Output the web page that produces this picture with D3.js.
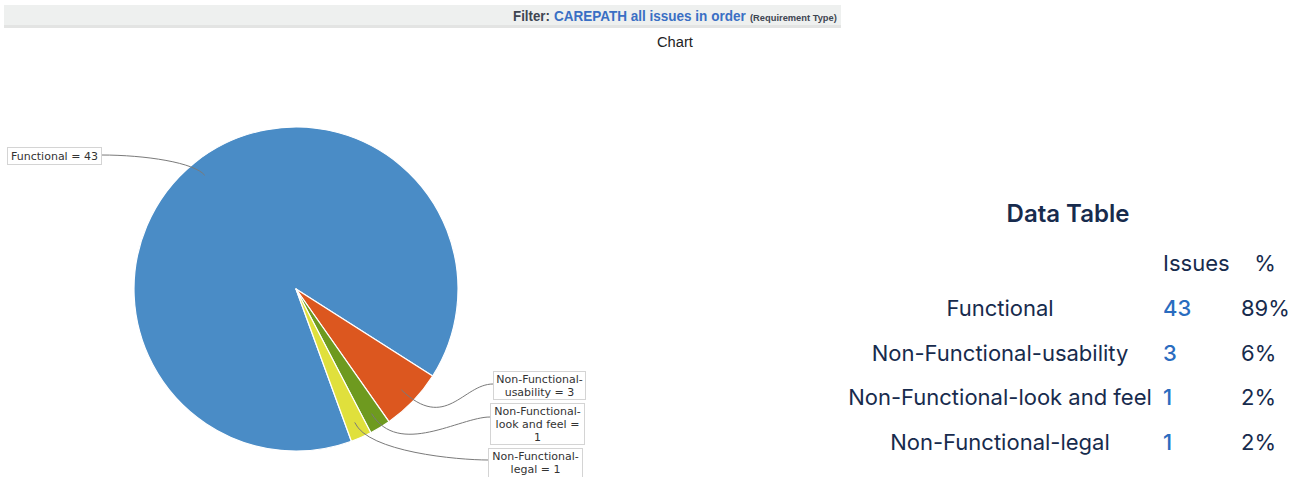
<!DOCTYPE html>
<html>
<head>
<meta charset="utf-8">
<script src="https://cdn.jsdelivr.net/npm/d3@7"></script>
<style>
  html, body { margin: 0; padding: 0; background: #fff; }
  svg { display: block; }
</style>
</head>
<body>
<svg id="chart" width="1302" height="477"></svg>
<script>
// Issue counts per requirement type
const categories = ["Functional", "Non-Functional-usability", "Non-Functional-look and feel", "Non-Functional-legal"];
const issues = [43, 3, 1, 1];
const percentLabels = ["89%", "6%", "2%", "2%"];
const sliceLabels = [["Functional = 43"], ["Non-Functional-", "usability = 3"], ["Non-Functional-", "look and feel =", "1"], ["Non-Functional-", "legal = 1"]];
const colors = ["#4a8cc6", "#dc571f", "#6e9a1f", "#e0e03c"];
const tableHeaders = ["Issues", "%"];

const svg = d3.select("#chart");

// ---- header bar ----
svg.append("rect").attr("x", 4).attr("y", 5).attr("width", 837).attr("height", 22).attr("fill", "#eef0ef");
svg.append("rect").attr("x", 4).attr("y", 25).attr("width", 837).attr("height", 3).attr("fill", "#e3e4e3");

const hdrFont = "'Liberation Sans', Arial, sans-serif";

// fit a text element horizontally into [x0, x1] by scaling it along x
function fitX(sel, x0, x1, y) {
  const w = sel.node().getBBox().width;
  const k = (x1 - x0) / w;
  sel.attr("transform", `translate(${x0},${y}) scale(${k},1)`);
}

function headerText(str, size, color, x0, x1, y) {
  const t = svg.append("text").attr("x", 0).attr("y", 0)
    .attr("font-family", hdrFont).attr("font-weight", "bold")
    .attr("font-size", size).attr("fill", color).text(str);
  fitX(t, x0, x1, y);
}
headerText("Filter:", 15, "#3f4652", 513, 550, 21);
headerText("CAREPATH all issues in order", 15, "#3a6fc4", 554, 746, 21);
headerText("(Requirement Type)", 9, "#3f4652", 750, 837, 21);

const chartTitle = svg.append("text").attr("x", 0).attr("y", 0)
  .attr("font-family", hdrFont).attr("font-size", 14).attr("fill", "#222").text("Chart");
fitX(chartTitle, 657, 693, 47);

// ---- pie ----
const cx = 296, cy = 289, R = 162;
const start = 160 * Math.PI / 180;
const pie = d3.pie().sort(null).startAngle(start).endAngle(start + 2 * Math.PI);
const arcs = pie(issues);
const arc = d3.arc().innerRadius(0).outerRadius(R);

const g = svg.append("g").attr("transform", `translate(${cx},${cy})`);
g.selectAll("path.slice").data(arcs).join("path")
  .attr("class", "slice")
  .attr("d", arc)
  .attr("fill", (d, i) => colors[i])
  .attr("stroke", "#fff").attr("stroke-width", 1.2).attr("stroke-linejoin", "round");

// label boxes (x, y, w, h), the side the link enters from, and link shape
const boxes = [
  { x: 7, y: 147, w: 94, h: 17, side: "right", ly: 155, reach: 1.0, pull: 45 },
  { x: 493, y: 371, w: 92, h: 28, side: "left", ly: 384, reach: 1.28, pull: 30 },
  { x: 490, y: 403, w: 94, h: 41, side: "left", ly: 417, reach: 1.22, pull: 30 },
  { x: 488, y: 448, w: 94, h: 29, side: "left", ly: 460, reach: 1.1, pull: 30 }
];

const pointAt = (angle, r) => [cx + r * Math.sin(angle), cy - r * Math.cos(angle)];

arcs.forEach((d, i) => {
  const mid = (d.startAngle + d.endAngle) / 2;
  const b = boxes[i];
  const p0 = pointAt(mid, R * 0.9);
  const p1 = pointAt(mid, R * b.reach);
  const ex = b.side === "right" ? b.x + b.w : b.x;
  const p3 = [ex, b.ly];
  const p2 = [b.side === "right" ? ex + b.pull : ex - b.pull, b.ly];
  const path = d3.path();
  path.moveTo(p0[0], p0[1]);
  path.bezierCurveTo(p1[0], p1[1], p2[0], p2[1], p3[0], p3[1]);
  svg.append("path").attr("d", path.toString()).attr("fill", "none")
    .attr("stroke", "#7a7a7a").attr("stroke-width", 1);
});

const labelFont = "'DejaVu Sans', sans-serif";
boxes.forEach((b, i) => {
  svg.append("rect").attr("x", b.x + 0.5).attr("y", b.y + 0.5).attr("width", b.w).attr("height", b.h)
    .attr("fill", "#fff").attr("stroke", "#d4d4d4").attr("stroke-width", 1);
  const lines = sliceLabels[i];
  const lh = 13;
  const top = b.y + b.h / 2 - (lines.length * lh) / 2;
  lines.forEach((t, k) => {
    svg.append("text").attr("x", b.x + b.w / 2 + 0.5).attr("y", top + lh * k + 10.5)
      .attr("text-anchor", "middle").attr("font-family", labelFont).attr("font-size", 11)
      .attr("fill", "#333").text(t);
  });
});

// ---- data table ----
const tblFont = "Inter, 'Noto Sans', sans-serif";
const ink = "#172b4d";
const fs = 22;
svg.append("text").attr("x", 1068).attr("y", 222).attr("text-anchor", "middle")
  .attr("font-family", tblFont).attr("font-size", 24).attr("font-weight", 600).attr("fill", ink)
  .text("Data Table");

svg.append("text").attr("x", 1163).attr("y", 271).attr("font-family", tblFont).attr("font-size", fs)
  .attr("fill", ink).text(tableHeaders[0]);
svg.append("text").attr("x", 1265).attr("y", 271).attr("text-anchor", "middle").attr("font-family", tblFont)
  .attr("font-size", fs).attr("fill", ink).text(tableHeaders[1]);

const rowY = d3.scalePoint().domain(categories).range([316, 450]);
categories.forEach((c, i) => {
  const y = rowY(c);
  svg.append("text").attr("x", 1000).attr("y", y).attr("text-anchor", "middle")
    .attr("font-family", tblFont).attr("font-size", fs).attr("fill", ink).text(c);
  svg.append("text").attr("x", 1163).attr("y", y)
    .attr("font-family", tblFont).attr("font-size", fs).attr("font-weight", 500).attr("fill", "#2a6cbf").text(issues[i]);
  svg.append("text").attr("x", 1241).attr("y", y)
    .attr("font-family", tblFont).attr("font-size", fs).attr("fill", ink).text(percentLabels[i]);
});
</script>
</body>
</html>
